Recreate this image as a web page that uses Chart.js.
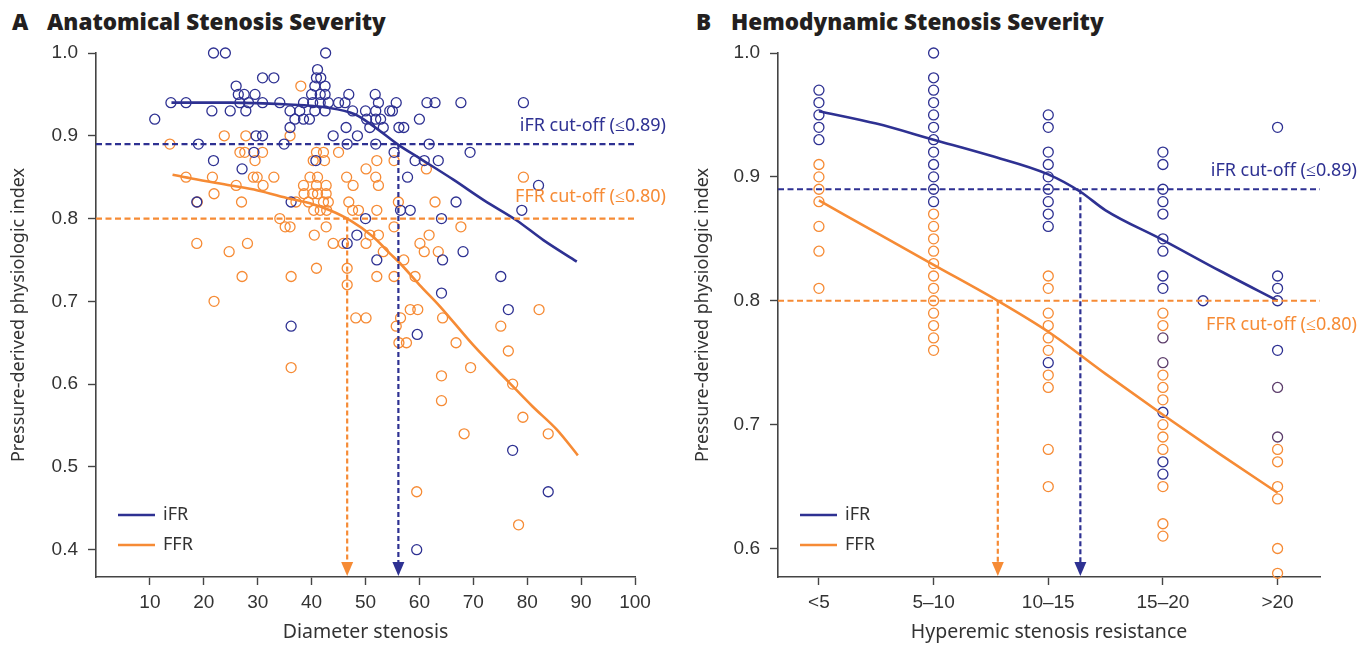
<!DOCTYPE html>
<html>
<head>
<meta charset="utf-8">
<script src="https://cdn.jsdelivr.net/npm/chart.js@4.4.1/dist/chart.umd.min.js"></script>
<style>
  html, body { margin: 0; padding: 0; background: #fff; }
  body { width: 1358px; height: 645px; position: relative; overflow: hidden; font-family: "Noto Sans", sans-serif; }
  .panel { position: absolute; top: 0; }
  .title, .letter { position: absolute; top: 6px; font-family: "Open Sans", sans-serif; font-weight: 800; font-size: 22.5px; color: #231f20; white-space: nowrap; }
</style>
</head>
<body>
<div class="letter" style="left:12px">A</div>
<div class="title" style="left:47px">Anatomical Stenosis Severity</div>
<div class="letter" style="left:696px">B</div>
<div class="title" style="left:731px">Hemodynamic Stenosis Severity</div>
<canvas id="chartA" class="panel" width="680" height="645" style="left:0"></canvas>
<canvas id="chartB" class="panel" width="678" height="645" style="left:680px"></canvas>
<script>
const BLUE = "#2e3192";
const ORANGE = "#f68b35";
const PURPLE = "#5c3d6b";
const AXIS = "#444";
const TEXT = "#333";

// ---- panel A: anatomical stenosis ----
const xTicksA = [10, 20, 30, 40, 50, 60, 70, 80, 90, 100];
const yTicksA = [0.4, 0.5, 0.6, 0.7, 0.8, 0.9, 1.0];

const ifrPointsA = [
  [10.9,0.92],[13.9,0.94],[16.7,0.94],[21.8,1.00],[24.0,1.00],[21.5,0.93],[24.9,0.93],[26.0,0.96],
  [26.4,0.95],[27.5,0.95],[26.7,0.94],[28.3,0.94],[27.8,0.93],[29.5,0.95],[30.9,0.97],[33.0,0.97],
  [30.9,0.94],[34.1,0.94],[36.0,0.93],[36.0,0.91],[36.9,0.92],[38.5,0.92],[39.6,0.92],[37.8,0.93],
  [38.5,0.94],[40.0,0.95],[40.2,0.94],[40.6,0.93],[41.1,0.98],[40.9,0.97],[41.7,0.97],[40.6,0.96],
  [42.5,0.96],[41.6,0.95],[42.5,0.95],[41.6,0.94],[43.1,0.94],[42.5,0.93],[42.6,1.00],[45.0,0.94],
  [46.2,0.94],[46.9,0.95],[47.6,0.93],[44.0,0.90],[46.4,0.91],[48.5,0.90],[50.0,0.93],[50.2,0.92],
  [51.8,0.95],[52.4,0.94],[51.9,0.93],[51.9,0.92],[52.8,0.92],[50.8,0.91],[53.3,0.91],[54.5,0.93],
  [19.0,0.89],[29.7,0.90],[30.9,0.90],[34.9,0.89],[46.6,0.89],[51.9,0.89],[29.3,0.88],[21.8,0.87],
  [27.1,0.86],[40.8,0.87],[18.7,0.82],[36.2,0.82],[50.0,0.80],[48.4,0.78],
  [55.7,0.94],[61.4,0.94],[62.9,0.94],[67.7,0.94],[79.3,0.94],[55.0,0.93],[60.0,0.92],[56.2,0.91],
  [57.1,0.91],[61.8,0.89],[55.3,0.88],[69.4,0.88],[59.2,0.87],[60.9,0.87],[63.5,0.87],[57.8,0.85],
  [82.1,0.84],[66.8,0.82],[56.5,0.81],[58.3,0.81],[64.1,0.80],[79.0,0.81],
  [46.6,0.77],[52.1,0.75],[64.3,0.75],[68.1,0.76],[75.1,0.73],[64.1,0.71],[76.5,0.69],[59.6,0.66],
  [36.2,0.67],[77.3,0.52],[83.9,0.47],[59.5,0.40]
];

const ffrPointsA = [
  [38.0,0.96],[13.7,0.89],[23.8,0.90],[27.8,0.90],[36.0,0.90],[26.7,0.88],[27.6,0.88],[30.9,0.88],
  [29.5,0.87],[40.9,0.88],[42.2,0.88],[40.3,0.87],[42.4,0.87],[45.0,0.88],[16.7,0.85],[21.6,0.85],
  [29.2,0.85],[29.9,0.85],[33.0,0.85],[26.0,0.84],[31.0,0.84],[21.9,0.83],[27.0,0.82],[18.8,0.82],
  [39.7,0.85],[41.1,0.85],[38.5,0.84],[40.9,0.84],[38.6,0.83],[40.2,0.83],[41.1,0.83],[42.7,0.84],
  [42.7,0.83],[39.4,0.82],[37.1,0.82],[40.4,0.81],[41.6,0.81],[42.8,0.81],[42.2,0.82],[43.1,0.82],
  [46.5,0.85],[47.7,0.84],[46.9,0.82],[47.6,0.81],[48.7,0.81],[52.1,0.87],[50.1,0.86],[51.9,0.85],
  [52.4,0.84],[52.1,0.81],[34.1,0.80],[35.1,0.79],[36.0,0.79],[40.5,0.78],[42.7,0.79],[50.8,0.78],
  [52.4,0.78],
  [44.0,0.77],[45.9,0.77],[50.1,0.77],[53.3,0.76],[18.7,0.77],[24.7,0.76],[28.1,0.77],[40.9,0.74],
  [46.6,0.74],[46.6,0.72],[52.1,0.73],[27.1,0.73],[36.2,0.73],[21.9,0.70],[48.2,0.68],[50.1,0.68],
  [36.2,0.62],
  [56.1,0.82],[62.9,0.82],[55.3,0.79],[67.7,0.79],[61.8,0.78],[60.1,0.77],[60.9,0.76],[63.5,0.76],
  [57.1,0.75],[55.3,0.73],[59.2,0.73],[58.3,0.69],[59.7,0.69],[64.3,0.68],[55.7,0.67],[56.5,0.68],
  [56.2,0.65],[57.6,0.65],[66.8,0.65],[75.1,0.67],[76.5,0.64],[82.2,0.69],[69.5,0.62],[64.1,0.61],
  [77.3,0.60],[64.1,0.58],[79.2,0.56],
  [55.3,0.87],[61.3,0.86],[79.3,0.85],
  [68.3,0.54],[83.9,0.54],[59.5,0.47],[78.4,0.43]
];

const ifrCurveA = [
  [14,0.940],[25,0.940],[35,0.938],[43,0.934],[48,0.926],[51.4,0.912],[56.1,0.889],[60,0.873],
  [66.3,0.847],[72,0.822],[78,0.798],[83,0.774],[89.2,0.748]
];
const ffrCurveA = [
  [14.2,0.853],[18,0.848],[25,0.840],[30,0.834],[36,0.824],[40,0.818],[43.4,0.810],[47.1,0.798],
  [51.4,0.778],[54.5,0.758],[56.4,0.746],[60,0.720],[63.8,0.694],[70,0.647],[76.8,0.601],
  [81,0.573],[85.5,0.545],[89.4,0.514]
];

// cut-offs: value, and where the fit crosses it
const cutoffsA = [
  { label: "iFR cut-off (\u22640.89)", value: 0.89, cross: 56.1, color: BLUE },
  { label: "FFR cut-off (\u22640.80)", value: 0.80, cross: 46.6, color: ORANGE }
];

// ---- panel B: hemodynamic stenosis ----
const catsB = ["<5", "5\u201310", "10\u201315", "15\u201320", ">20"];
const yTicksB = [0.6, 0.7, 0.8, 0.9, 1.0];

const ifrPointsB = [
  [0,0.97],[0,0.96],[0,0.95],[0,0.94],[0,0.93],
  [1,1.00],[1,0.98],[1,0.97],[1,0.96],[1,0.95],[1,0.94],[1,0.93],[1,0.92],[1,0.91],[1,0.90],[1,0.89],[1,0.88],
  [2,0.95],[2,0.94],[2,0.92],[2,0.91],[2,0.90],[2,0.89],[2,0.88],[2,0.87],[2,0.86],[2,0.75],
  [3,0.92],[3,0.91],[3,0.89],[3,0.88],[3,0.87],[3,0.85],[3,0.84],[3,0.82],[3,0.81],[3,0.71],[3,0.67],[3,0.66],
  [3.35,0.80],
  [4,0.94],[4,0.82],[4,0.81],[4,0.80],[4,0.76]
];
const ffrPointsB = [
  [0,0.91],[0,0.90],[0,0.89],[0,0.88],[0,0.86],[0,0.84],[0,0.81],
  [1,0.87],[1,0.86],[1,0.85],[1,0.84],[1,0.83],[1,0.82],[1,0.81],[1,0.80],[1,0.79],[1,0.78],[1,0.77],[1,0.76],
  [2,0.82],[2,0.81],[2,0.79],[2,0.78],[2,0.77],[2,0.76],[2,0.74],[2,0.73],[2,0.68],[2,0.65],
  [3,0.79],[3,0.78],[3,0.74],[3,0.73],[3,0.72],[3,0.70],[3,0.69],[3,0.68],[3,0.65],[3,0.62],[3,0.61],
  [4,0.68],[4,0.67],[4,0.65],[4,0.64],[4,0.60],[4,0.58]
];
// iFR and FFR circles lying on top of each other
const bothPointsB = [[3,0.77],[3,0.75],[4,0.73],[4,0.69]];

const ifrCurveB = [[0,0.953],[0.5,0.943],[1,0.930],[1.5,0.917],[2,0.902],[2.28,0.888],[2.5,0.873],[3,0.849],[3.5,0.824],[4,0.800]];
const ffrCurveB = [[0,0.881],[0.5,0.855],[1,0.829],[1.56,0.800],[2,0.775],[2.5,0.741],[3,0.708],[3.5,0.676],[4,0.645]];

const cutoffsB = [
  { label: "iFR cut-off (\u22640.89)", value: 0.89, cross: 2.28, color: BLUE },
  { label: "FFR cut-off (\u22640.80)", value: 0.80, cross: 1.56, color: ORANGE }
];

const toXY = arr => arr.map(([x, y]) => ({ x, y }));

function pointSet(label, pts, color) {
  return {
    label, data: toXY(pts), showLine: false, pointRadius: 5, pointHoverRadius: 5,
    pointBorderWidth: 1.3, borderColor: color, backgroundColor: "rgba(0,0,0,0)", clip: false, order: 2
  };
}
function curveSet(label, pts, color) {
  return {
    label, data: toXY(pts), showLine: true, pointRadius: 0, borderColor: color,
    borderWidth: 2.6, tension: 0.4, cubicInterpolationMode: "monotone", clip: false, order: 0
  };
}

// cut-off lines, arrows, labels and legend
function overlayPlugin(cfg) {
  return {
    id: "overlay",
    afterDatasetsDraw(chart) {
      const { ctx, scales: { x, y } } = chart;
      const x0 = x.getPixelForValue(x.min), x1 = x.getPixelForValue(x.max);
      const yb = y.getPixelForValue(y.min);
      ctx.save();
      cfg.cutoffs.forEach((c, i) => {
        const py = y.getPixelForValue(c.value);
        const px = x.getPixelForValue(c.cross);
        ctx.strokeStyle = c.color;
        ctx.fillStyle = c.color;
        ctx.lineWidth = 2.2;
        ctx.setLineDash([6, 3.5]);
        ctx.beginPath(); ctx.moveTo(x0, py); ctx.lineTo(x1, py); ctx.stroke();
        ctx.setLineDash([5, 3]);
        ctx.beginPath(); ctx.moveTo(px, py); ctx.lineTo(px, yb - 12); ctx.stroke();
        ctx.setLineDash([]);
        ctx.beginPath(); ctx.moveTo(px - 6, yb - 15); ctx.lineTo(px + 6, yb - 15); ctx.lineTo(px, yb - 1); ctx.closePath(); ctx.fill();
        ctx.font = "18px 'Noto Sans'";
        ctx.textAlign = "right";
        ctx.textBaseline = "middle";
        ctx.fillText(c.label, cfg.labelRight, py + cfg.labelOffsets[i]);
      });
      cfg.legend.forEach((l, i) => {
        const ly = cfg.legendY[i];
        ctx.strokeStyle = l.color;
        ctx.lineWidth = 2.6;
        ctx.beginPath(); ctx.moveTo(cfg.legendX[0], ly); ctx.lineTo(cfg.legendX[1], ly); ctx.stroke();
        ctx.fillStyle = TEXT;
        ctx.font = "18px 'Noto Sans'";
        ctx.textAlign = "left";
        ctx.textBaseline = "middle";
        ctx.fillText(l.label, cfg.legendX[1] + 8, ly);
      });
      ctx.restore();
    }
  };
}

function axisOpts(extra) {
  return Object.assign({
    type: "linear",
    grid: { drawOnChartArea: false, drawTicks: true, tickLength: 8, tickColor: AXIS, tickWidth: 1.4, color: AXIS },
    border: { display: true, color: AXIS, width: 1.6 },
  }, extra);
}

const tickFont = { family: "'Liberation Sans', Arial, sans-serif", size: 19 };
const xTitleFont = { family: "'Noto Sans', sans-serif", size: 19.5 };
const yTitleFont = { family: "'Noto Sans', sans-serif", size: 18 };

function makeChart(id, o) {
  return new Chart(document.getElementById(id), {
    type: "scatter",
    data: {
      datasets: [
        curveSet("iFR fit", o.ifrCurve, BLUE),
        curveSet("FFR fit", o.ffrCurve, ORANGE),
        pointSet("iFR", o.ifrPts, BLUE),
        pointSet("FFR", o.ffrPts, ORANGE),
        pointSet("iFR & FFR", o.bothPts, PURPLE)
      ]
    },
    options: {
      responsive: false,
      animation: false,
      events: [],
      layout: { padding: { left: 0, right: o.padRight, top: 53, bottom: 0 } },
      plugins: { legend: { display: false }, tooltip: { enabled: false } },
      scales: {
        x: axisOpts({
          min: o.xMin, max: o.xMax,
          afterBuildTicks: s => { s.ticks = o.xTicks.map(v => ({ value: v })); },
          afterFit: s => { s.height = 68; },
          ticks: { color: TEXT, font: tickFont, padding: 6, maxRotation: 0, autoSkip: false, callback: o.xLabel },
          title: { display: true, text: o.xTitle, color: TEXT, font: xTitleFont, padding: { top: 0, bottom: 1 } }
        }),
        y: axisOpts({
          min: o.yMin, max: 1.0,
          afterBuildTicks: s => { s.ticks = o.yTicks.map(v => ({ value: v })); },
          afterFit: s => { s.width = o.yWidth; },
          ticks: { color: TEXT, font: tickFont, padding: 10, callback: v => v.toFixed(1) },
          title: { display: true, text: "Pressure-derived physiologic index", color: TEXT, font: yTitleFont, padding: { top: o.yTitlePad, bottom: 0 } }
        })
      }
    },
    plugins: [overlayPlugin({
      cutoffs: o.cutoffs, labelRight: o.labelRight, labelOffsets: o.labelOffsets,
      legend: [{ label: "iFR", color: BLUE }, { label: "FFR", color: ORANGE }],
      legendX: o.legendX, legendY: [515, 545]
    })]
  });
}

makeChart("chartA", {
  ifrCurve: ifrCurveA, ffrCurve: ffrCurveA, ifrPts: ifrPointsA, ffrPts: ffrPointsA, bothPts: [],
  xMin: 0, xMax: 100, xTicks: xTicksA, xLabel: v => String(v), xTitle: "Diameter stenosis",
  yMin: 0.367, yTicks: yTicksA, yWidth: 96, yTitlePad: 8, padRight: 45,
  cutoffs: cutoffsA, labelRight: 666, labelOffsets: [-18, -22], legendX: [118, 155]
});

makeChart("chartB", {
  ifrCurve: ifrCurveB, ffrCurve: ffrCurveB, ifrPts: ifrPointsB, ffrPts: ffrPointsB, bothPts: bothPointsB,
  xMin: -0.357, xMax: 4.37, xTicks: [0, 1, 2, 3, 4], xLabel: (v, i) => catsB[i], xTitle: "Hyperemic stenosis resistance",
  yMin: 0.577, yTicks: yTicksB, yWidth: 98, yTitlePad: 12, padRight: 38,
  cutoffs: cutoffsB, labelRight: 677, labelOffsets: [-18, 24], legendX: [120, 157]
});
</script>
</body>
</html>
